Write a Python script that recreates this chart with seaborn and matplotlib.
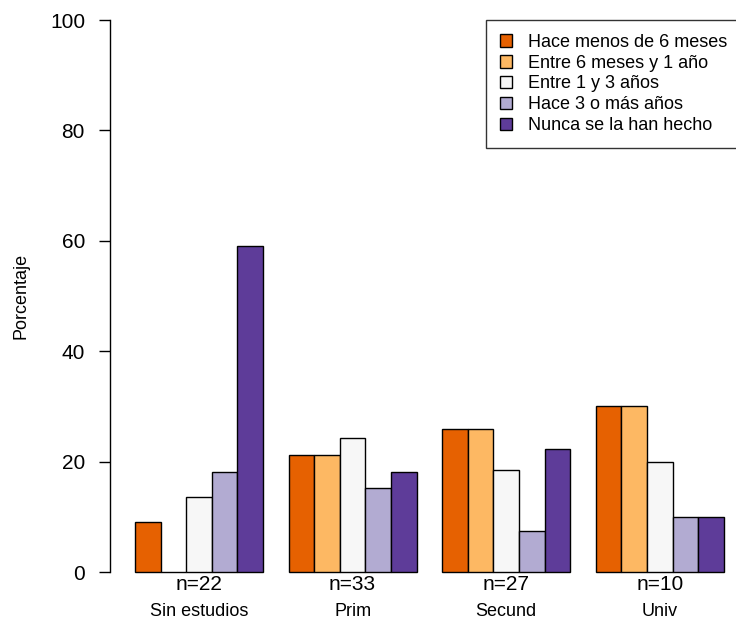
import numpy as np
import pandas as pd
import matplotlib
matplotlib.use("Agg")
import matplotlib.pyplot as plt
import seaborn as sns

# %%
niveles = ["Sin estudios", "Prim", "Secund", "Univ"]
n_grupo = [22, 33, 27, 10]
tiempos = [
  "Hace menos de 6 meses",
  "Entre 6 meses y 1 año",
  "Entre 1 y 3 años",
  "Hace 3 o más años",
  "Nunca se la han hecho",
]
colores = ["#E66101", "#FDB863", "#F7F7F7", "#B2ABD2", "#5E3C99"]

# porcentajes por nivel (filas) y tiempo (columnas)
pct_sin = [9.09, 0.0, 13.64, 18.18, 59.09]
pct_prim = [21.21, 21.21, 24.24, 15.15, 18.18]
pct_secund = [25.93, 25.93, 18.52, 7.41, 22.22]
pct_univ = [30.0, 30.0, 20.0, 10.0, 10.0]

# %%
df = pd.DataFrame({
  "nivel": np.repeat(niveles, len(tiempos)),
  "tiempo": tiempos * len(niveles),
  "pct": pct_sin + pct_prim + pct_secund + pct_univ,
})

plt.rcParams["font.family"] = ["Liberation Sans", "DejaVu Sans"]

fig = plt.figure(figsize=(7.36, 6.24), dpi=100)
ax = fig.add_axes([110 / 736, 52 / 624, 626 / 736, 552 / 624])

sns.barplot(
  data=df,
  x="nivel",
  y="pct",
  hue="tiempo",
  order=niveles,
  hue_order=tiempos,
  palette=colores,
  width=5 / 6,
  errorbar=None,
  edgecolor="black",
  linewidth=1,
  saturation=1,
  ax=ax,
)
for p in ax.patches:
  p.set_clip_on(False)

ax.set_xlim(-0.579, 3.496)
ax.set_ylim(0, 100)
ax.set_yticks([0, 20, 40, 60, 80, 100])
ax.tick_params(axis="y", labelsize=15, length=8, width=1, pad=10)
ax.set_xticks([])
ax.set_xlabel("")
ax.set_ylabel("Porcentaje", fontsize=13)
ax.yaxis.set_label_coords(-0.129, 0.5)
for s in ["top", "right", "bottom"]:
  ax.spines[s].set_visible(False)
ax.spines["left"].set_linewidth(1)

tr = ax.get_xaxis_transform()
for i, (nv, n) in enumerate(zip(niveles, n_grupo)):
  ax.text(i, -12 / 552, f"n={n}", transform=tr, ha="center", va="center", fontsize=15)
  ax.text(i, -40 / 552, nv, transform=tr, ha="center", va="center", fontsize=13)

handles, labels = ax.get_legend_handles_labels()
leg = ax.legend(
  handles,
  labels,
  loc="upper left",
  bbox_to_anchor=(486 / 736, 1 - 20 / 624),
  bbox_transform=fig.transFigure,
  borderaxespad=0,
  fontsize=13,
  frameon=True,
  fancybox=False,
  handlelength=0.7,
  handleheight=0.7,
  handletextpad=0.9,
  labelspacing=0.22,
  borderpad=0.75,
)
leg.get_frame().set_edgecolor("black")
leg.get_frame().set_linewidth(1)

plt.savefig("out.png", dpi=100)
